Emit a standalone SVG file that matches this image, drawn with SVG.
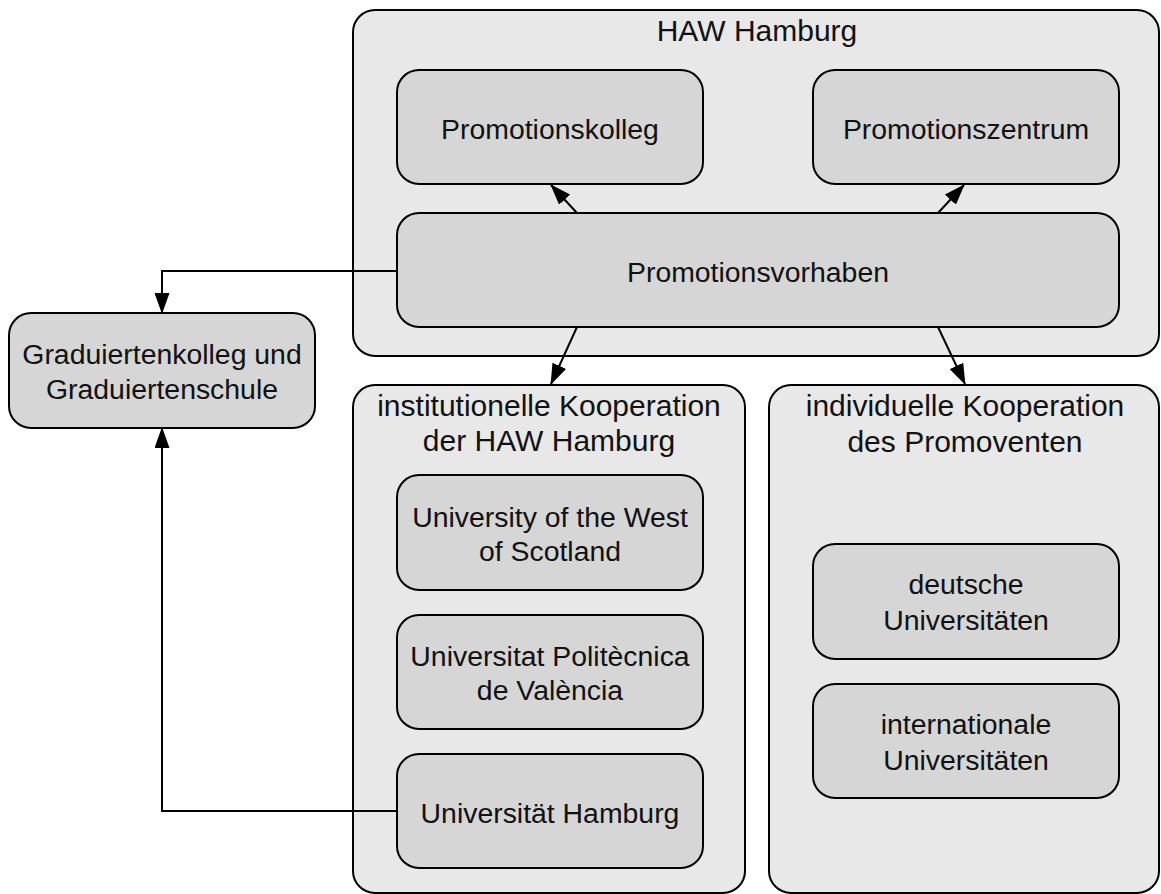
<svg xmlns="http://www.w3.org/2000/svg" width="1161" height="894" viewBox="0 0 1161 894">
<style>
.cont{fill:#e8e8e8;stroke:#000;stroke-width:2}
.node{fill:#d6d6d6;stroke:#000;stroke-width:2}
.t{font-family:"Liberation Sans",Arial,Helvetica,sans-serif;font-size:28.4px;fill:#111;text-anchor:middle}
.tt{font-family:"Liberation Sans",Arial,Helvetica,sans-serif;font-size:30px;fill:#111;text-anchor:middle}
.c{fill:none;stroke:#000;stroke-width:2}
</style>
<defs>
<marker id="arr" viewBox="0 0 21 15" refX="20" refY="7.5" markerWidth="21" markerHeight="15" markerUnits="userSpaceOnUse" orient="auto">
<path d="M0,0 L21,7.5 L0,15 z" fill="#000"/>
</marker>
</defs>
<rect width="1161" height="894" fill="#fff"/>
<g id="haw">
<rect class="cont" x="353" y="10" width="806" height="346" rx="22"/>
<text class="tt" x="757" y="41">HAW Hamburg</text>
</g>
<g id="inst">
<rect class="cont" x="353" y="385" width="392" height="508" rx="22"/>
<text class="tt" x="549" y="416">institutionelle Kooperation</text>
<text class="tt" x="549" y="451">der HAW Hamburg</text>
</g>
<g id="indiv">
<rect class="cont" x="769" y="385" width="390" height="508" rx="22"/>
<text class="tt" x="965" y="416">individuelle Kooperation</text>
<text class="tt" x="965" y="452">des Promoventen</text>
</g>
<g id="promotionskolleg">
<rect class="node" x="397" y="70" width="306" height="114" rx="22"/>
<text class="t" x="550" y="139">Promotionskolleg</text>
</g>
<g id="promotionszentrum">
<rect class="node" x="813" y="70" width="306" height="114" rx="22"/>
<text class="t" x="966" y="139">Promotionszentrum</text>
</g>
<g id="promotionsvorhaben">
<rect class="node" x="397" y="213" width="722" height="114" rx="22"/>
<text class="t" x="758" y="282">Promotionsvorhaben</text>
</g>
<g id="graduiertenkolleg">
<rect class="node" x="9" y="313" width="306" height="115" rx="22"/>
<text class="t" x="162" y="364">Graduiertenkolleg und</text>
<text class="t" x="162" y="399">Graduiertenschule</text>
</g>
<g id="uws">
<rect class="node" x="397" y="475" width="306" height="115" rx="22"/>
<text class="t" x="550" y="527">University of the West</text>
<text class="t" x="550" y="561">of Scotland</text>
</g>
<g id="upv">
<rect class="node" x="397" y="615" width="306" height="114" rx="22"/>
<text class="t" x="550" y="666">Universitat Politècnica</text>
<text class="t" x="550" y="700">de València</text>
</g>
<g id="uhh">
<rect class="node" x="397" y="754" width="306" height="114" rx="22"/>
<text class="t" x="550" y="823">Universität Hamburg</text>
</g>
<g id="deutsche">
<rect class="node" x="813" y="544" width="306" height="115" rx="22"/>
<text class="t" x="966" y="594">deutsche</text>
<text class="t" x="966" y="630">Universitäten</text>
</g>
<g id="internationale">
<rect class="node" x="813" y="684" width="306" height="114" rx="22"/>
<text class="t" x="966" y="734">internationale</text>
<text class="t" x="966" y="770">Universitäten</text>
</g>
<g id="connectors">
<line class="c" x1="577" y1="213" x2="551" y2="185" marker-end="url(#arr)"/>
<line class="c" x1="938" y1="213" x2="964" y2="185" marker-end="url(#arr)"/>
<line class="c" x1="577" y1="327" x2="551" y2="384" marker-end="url(#arr)"/>
<line class="c" x1="938" y1="327" x2="965" y2="384" marker-end="url(#arr)"/>
<path class="c" d="M397,271 H162 V313" marker-end="url(#arr)"/>
<path class="c" d="M397,811 H162 V428" marker-end="url(#arr)"/>
</g>
</svg>
